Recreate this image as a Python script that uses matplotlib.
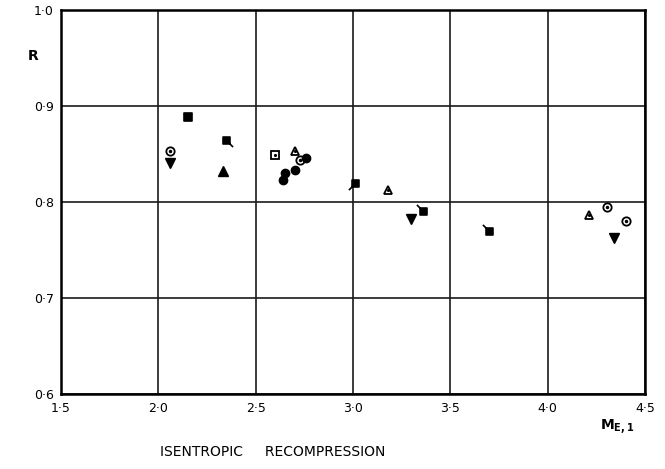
import matplotlib
matplotlib.use("Agg")
import matplotlib.pyplot as plt
import numpy as np
from matplotlib.path import Path

# data
sq_x = [2.15, 2.35, 3.01, 3.36, 3.70]
sq_y = [0.888, 0.864, 0.820, 0.791, 0.770]
sq_tail = [None, 'lr', 'll', 'ul', 'ul']

cdot_x = [2.06, 2.73, 4.305, 4.40]
cdot_y = [0.853, 0.844, 0.795, 0.780]

dtri_x = [2.06, 3.30, 4.34]
dtri_y = [0.841, 0.782, 0.762]

utri_x = [2.33]
utri_y = [0.832]

otri_x = [2.70, 3.18, 4.21]
otri_y = [0.853, 0.812, 0.786]

dsq_x = [2.60]
dsq_y = [0.849]

fc_x = [2.70, 2.65, 2.64, 2.76]
fc_y = [0.833, 0.830, 0.823, 0.846]

xticks = [1.5, 2.0, 2.5, 3.0, 3.5, 4.0, 4.5]
yticks = [0.6, 0.7, 0.8, 0.9, 1.0]

TAIL = 1.9

def tail_marker(d):
    sq = [(-1, -1), (1, -1), (1, 1), (-1, 1), (-1, -1)]
    codes = [Path.MOVETO] + [Path.LINETO] * 3 + [Path.CLOSEPOLY]
    if d is None:
        return Path(sq, codes)
    ends = {'lr': ((1, -1), (TAIL, -TAIL)), 'll': ((-1, -1), (-TAIL, -TAIL)),
            'ul': ((-1, 1), (-TAIL, TAIL)), 'ur': ((1, 1), (TAIL, TAIL))}
    a, b = ends[d]
    return Path(sq + [a, b], codes + [Path.MOVETO, Path.LINETO])

plt.rcParams['font.family'] = ['DejaVu Sans']
fig = plt.figure(figsize=(6.65, 4.69), dpi=100)
ax = fig.add_axes([0.0917, 0.160, 0.8783, 0.819])

k = dict(color='black', linestyle='none', zorder=3)
sq_size = 5
for x, y, t in zip(sq_x, sq_y, sq_tail):
    ms = 5.5 if t is None else sq_size * TAIL
    ax.plot([x], [y], marker=tail_marker(t), markersize=ms, mfc='black', mec='black', mew=1.2, **k)
ax.plot(cdot_x, cdot_y, marker='o', markersize=6, mfc='white', mec='black', mew=1.3, **k)
ax.plot(cdot_x, cdot_y, marker='.', markersize=3, **k)
ax.plot(dtri_x, dtri_y, marker='v', markersize=7, **k)
ax.plot(utri_x, utri_y, marker='^', markersize=7, **k)
ax.plot(otri_x, otri_y, marker='^', markersize=6, mfc='white', mec='black', mew=1.3, **k)
ax.plot(otri_x, otri_y, marker='.', markersize=2.5, **k)
ax.plot(dsq_x, dsq_y, marker='s', markersize=5.5, mfc='white', mec='black', mew=1.3, **k)
ax.plot(dsq_x, dsq_y, marker='.', markersize=2.5, **k)
ax.plot(fc_x, fc_y, marker='o', markersize=6, **k)

ax.set_xlim(1.5, 4.5)
ax.set_ylim(0.6, 1.0)
ax.set_xticks(xticks)
ax.set_yticks(yticks)
ax.set_xticklabels([f"{v:.1f}".replace('.', '·') for v in xticks])
ax.set_yticklabels([f"{v:.1f}".replace('.', '·') for v in yticks])
ax.tick_params(length=0, labelsize=9, pad=6)
ax.tick_params(axis='y', pad=5)
ax.grid(True, color='#1a1a1a', linewidth=1.2)
for s in ax.spines.values():
    s.set_linewidth(1.8)

fig.text(0.050, 0.880, 'R', fontsize=10, fontweight='bold', ha='center', va='center')
fig.text(0.928, 0.090, r'M$_{\mathbf{E,1}}$', fontsize=10, fontweight='bold', ha='center', va='center')
fig.text(0.41, 0.036, 'ISENTROPIC     RECOMPRESSION', fontsize=10, ha='center', va='center')

fig.savefig('out.png', dpi=100)
